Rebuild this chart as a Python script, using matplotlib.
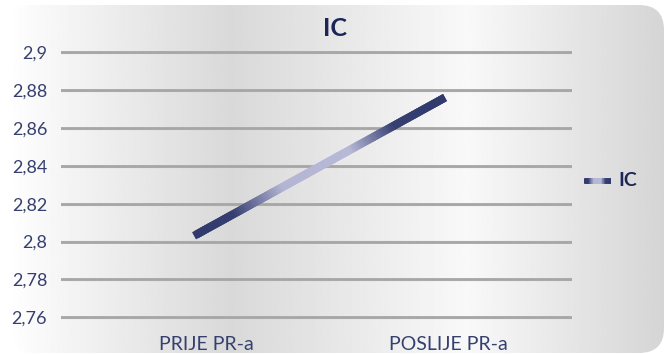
import numpy as np
import matplotlib
matplotlib.use("Agg")
import matplotlib.pyplot as plt
from matplotlib.collections import LineCollection
from matplotlib.colors import LinearSegmentedColormap
from matplotlib.patches import FancyBboxPatch

# data
categories = ["PRIJE PR-a", "POSLIJE PR-a"]
ic_values = [2.803, 2.876]
y_ticks = [2.76, 2.78, 2.80, 2.82, 2.84, 2.86, 2.88, 2.90]
series_name = "IC"

navy = "#1c2656"
tick_color = "#36406f"
line_cmap = LinearSegmentedColormap.from_list(
    "ic_line",
    [(0.0, "#303a6c"), (0.15, "#343e70"), (0.35, "#b4b5d4"),
     (0.62, "#b8b9d7"), (0.80, "#363f71"), (1.0, "#303a6c")])


def gradient_segments(x0, y0, x1, y1, n=150):
    # short overlapping pieces so the joins don't show through
    t = np.linspace(0, 1, n + 1)
    t_end = np.minimum(t[1:] + 1.5 / n, 1.0)
    starts = np.column_stack([x0 + (x1 - x0) * t[:-1], y0 + (y1 - y0) * t[:-1]])
    ends = np.column_stack([x0 + (x1 - x0) * t_end, y0 + (y1 - y0) * t_end])
    return np.stack([starts, ends], axis=1), (t[:-1] + t[1:]) / 2


W, H, DPI = 666, 354, 100
fig = plt.figure(figsize=(W / DPI, H / DPI), dpi=DPI)
fig.patch.set_facecolor("white")

# background panel: rounded box with horizontal grey/white bands
bg = fig.add_axes([0, 0, 1, 1])
bg.set_xlim(0, W)
bg.set_ylim(H, 0)
bg.axis("off")
xs = np.linspace(0, 1, 600)
stops_x = [0.0, 0.05, 0.34, 0.70, 1.0]
stops_v = [1.0, 0.975, 0.85, 0.975, 0.835]
shade = np.interp(xs, stops_x, stops_v)
grad = np.tile(shade, (10, 1))
img = bg.imshow(grad, cmap="gray", vmin=0, vmax=1, aspect="auto",
                extent=[8, 664, 353, 5], zorder=0, interpolation="bilinear")
box = FancyBboxPatch((8 + 25, 5 + 25), 656 - 50, 348 - 50,
                     boxstyle="round,pad=25", transform=bg.transData,
                     facecolor="none", edgecolor="none")
bg.add_patch(box)
img.set_clip_path(box)

# plot area
ax = fig.add_axes([61 / W, 1 - 330 / H, (572 - 61) / W, (330 - 35) / H])
ax.patch.set_alpha(0)
x = np.arange(len(categories))
ax.set_xlim(-0.53, 1.506)
ax.set_ylim(2.7533, 2.909)

for t in y_ticks:
    ax.axhline(t - 0.0005, color="#d2d2d2", lw=1.6, zorder=1)
    ax.axhline(t, color="#a6a6a6", lw=2.0, zorder=1)

# gradient line between the two points
segs, tc = gradient_segments(x[0], ic_values[0], x[1], ic_values[1])
lc = LineCollection(segs, cmap=line_cmap, linewidths=5.8, capstyle="butt", zorder=3)
lc.set_array(tc)
ax.add_collection(lc)

ax.set_yticks(y_ticks)
ax.set_yticklabels([("%g" % t).replace(".", ",") for t in y_ticks],
                   fontsize=13, color=tick_color, family="Lato")
# category labels sit a little right of the line ends
ax.set_xticks(x + np.array([0.048, 0.012]))
ax.set_xticklabels(categories, fontsize=14, color=tick_color, family="Lato")
ax.tick_params(axis="y", length=0, pad=10)
ax.tick_params(axis="x", length=0, pad=4)
for s in ax.spines.values():
    s.set_visible(False)

fig.text(335 / W, 1 - 28 / H, series_name, ha="center", va="center",
         fontsize=18, fontweight="bold", color=navy, family="Lato")

# legend
lsegs, ltc = gradient_segments(584, 180.5, 611, 180.5, n=40)
leg = LineCollection(lsegs, cmap=line_cmap, linewidths=4.0, zorder=3)
leg.set_array(0.15 + 0.7 * ltc)
bg.add_collection(leg)
bg.text(618, 181, series_name, ha="left", va="center", fontsize=14,
        fontweight="bold", color=navy, family="Lato")

fig.savefig("out.png", dpi=DPI)
